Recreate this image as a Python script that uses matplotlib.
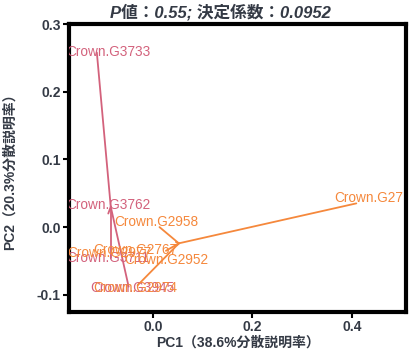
import matplotlib
matplotlib.use("Agg")
import matplotlib.pyplot as plt

# ── data ────────────────────────────────────────────────────────────────────
groups = ["pink", "orange"]
centers_x = [-0.085, 0.052]
centers_y = [0.030, -0.024]

names = ["Crown.G3733", "Crown.G3762", "Crown.G3711", "Crown.G3945",
         "Crown.G27", "Crown.G2958", "Crown.G2977", "Crown.G2767",
         "Crown.G2952", "Crown.G2974"]
group_of = [0, 0, 0, 0, 1, 1, 1, 1, 1, 1]
pc1 = [-0.113, -0.090, -0.085, -0.049,
       0.409, 0.013, 0.046, 0.026, 0.048, -0.031]
pc2 = [0.258, 0.020, -0.046, -0.088,
       0.035, 0.000, -0.022, -0.035, -0.027, -0.086]
# label anchor (left edge, vertical centre)
lab_x = [-0.175, -0.175, -0.175, -0.127,
         0.365, -0.077, -0.173, -0.121, -0.057, -0.121]
lab_y = [0.258, 0.032, -0.046, -0.090,
         0.043, 0.007, -0.038, -0.034, -0.049, -0.090]

xticks = [0.0, 0.2, 0.4]
yticks = [-0.1, 0.0, 0.1, 0.2, 0.3]

colors = ["#d3627c", "#f5883c"]
txt_col = "#343a45"
fams = ["Liberation Sans", "Noto Sans CJK JP"]

plt.rcParams["font.family"] = fams

fig = plt.figure(figsize=(4.09, 3.49), dpi=100)
ax = fig.add_axes([0.1687, 0.1069, 0.8240, 0.8243])

# spider lines: group centre -> each sample
for i in range(len(names)):
    g = group_of[i]
    ax.plot([centers_x[g], pc1[i]], [centers_y[g], pc2[i]],
            color=colors[g], lw=1.3, solid_capstyle="round")
for i in range(len(names)):
    g = group_of[i]
    ax.text(lab_x[i], lab_y[i], names[i], color=colors[g], fontsize=9.8,
            ha="left", va="center", clip_on=True)

ax.set_xlim(-0.169, 0.509)
ax.set_ylim(-0.125, 0.3)
ax.set_xticks(xticks)
ax.set_yticks(yticks)
ax.set_xticklabels([f"{v:.1f}" for v in xticks])
ax.set_yticklabels([f"{v:.1f}" for v in yticks])
ax.tick_params(length=4, width=1.5, color="black", labelsize=10,
               labelcolor=txt_col, pad=2)
for lbl in ax.get_xticklabels() + ax.get_yticklabels():
    lbl.set_fontweight("bold")
for sp in ax.spines.values():
    sp.set_linewidth(3)
    sp.set_color("black")

ax.set_xlabel("PC1（38.6%分散説明率）", fontsize=10, fontweight="bold",
              color=txt_col, labelpad=1)
ax.set_ylabel("PC2（20.3%分散説明率）", fontsize=10, fontweight="bold",
              color=txt_col, labelpad=14)

fig.text(0.538, 0.965, "P値：0.55; 決定係数：0.0952", ha="center", va="center",
         fontsize=12, fontweight="bold", style="italic", color=txt_col)

fig.savefig("out.png", dpi=100)
